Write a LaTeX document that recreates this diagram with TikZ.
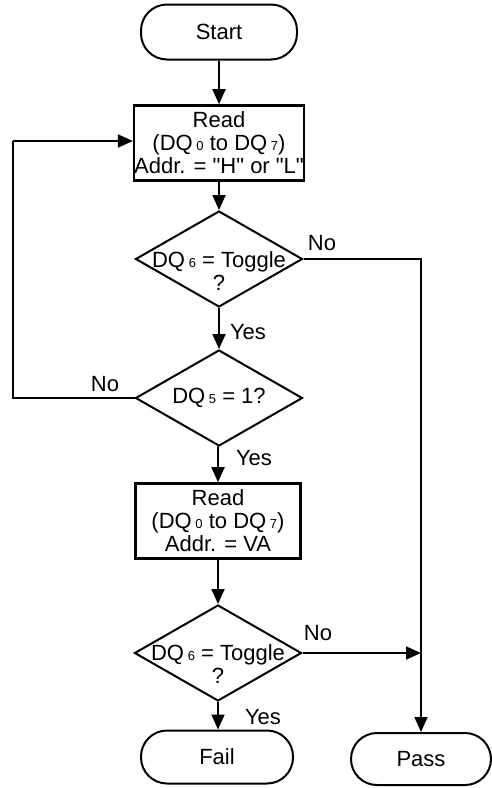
\documentclass[tikz,border=0pt]{standalone}
\usepackage{fontspec}
\setmainfont{Liberation Sans}
\usepackage{tikz}
\usetikzlibrary{shapes.geometric,arrows.meta,positioning,calc}
\newcommand{\dqsub}[1]{\,{\fontsize{13}{13}\selectfont #1}}

\begin{document}
\begin{tikzpicture}[x=1pt,y=-1pt,
        font=\fontsize{22}{23}\selectfont,
        term/.style={draw, line width=2pt, rounded corners=26pt,
                     minimum width=152pt, minimum height=53pt, inner sep=0pt},
        rd/.style={draw, line width=2.6pt, align=center, inner sep=0pt,
                   minimum width=166pt, minimum height=75pt},
        dec/.style={draw, diamond, line width=2pt, inner sep=0pt,
                    minimum width=167pt, minimum height=96pt},
        arr/.style={-{Triangle[length=15pt,width=13pt]}, line width=1.8pt},
        ln/.style={line width=2pt}
      ]
        \useasboundingbox (0,0) rectangle (492,788);
        % MAIN COLUMN
        \node[term, minimum width=156pt, minimum height=55pt] (start) at (219,32) {Start};
        \node[rd] (read1) at (219,143) {Read\\(DQ\dqsub{0} to DQ\dqsub{7})\\Addr. = \textquotedbl H\textquotedbl{} or \textquotedbl L\textquotedbl};
        \node[dec, label={[align=center, yshift=-12pt]center:{DQ\dqsub{6} = Toggle\\?}}] (dq6a) at (219,259) {};
        \node[dec, label={center:{DQ\dqsub{5} = 1?}}] (dq5) at (219,398) {};
        \node[rd, minimum width=165pt] (read2) at (218,521) {Read\\(DQ\dqsub{0} to DQ\dqsub{7})\\Addr. = VA};
        \node[dec, label={[align=center, yshift=-11pt]center:{DQ\dqsub{6} = Toggle\\?}}] (dq6b) at (218,653) {};
        \node[term] (fail) at (217,757) {Fail};
        \node[term, minimum width=140pt, minimum height=52pt] (pass) at (421,759) {Pass};
        % DOWNWARD ARROWS
        \draw[arr] (start)--(read1);
        \draw[arr] (read1)--(dq6a);
        \draw[arr] (dq6a)--(dq5);
        \draw[arr] (dq5)--(read2 |- dq5.south) -- (read2);
        \draw[arr] (read2)--(read2 |- dq6b.north);
        \draw[arr] (dq6b)--(dq6b |- fail.north);
        % LABELS
        \node (yes1) at (248,332) {Yes};
        \node (yes2) at (254,458) {Yes};
        \node (yes3) at (263,717) {Yes};
        \node (no1) at (322,243) {No};
        \node (no2) at (105,384) {No};
        \node (no3) at (318,633) {No};
        % LOOP BACK TO FIRST READ
        \coordinate (lb) at (13,398);
        \coordinate (lt) at (13,141);
        \draw[ln] (dq5.west)--(lb)--(lt);
        \draw[arr] (lt)--(lt -| read1.west);
        % RIGHT BRANCH TO PASS
        \coordinate (rt) at (pass.north |- dq6a.east);
        \coordinate (rj) at (pass.north |- dq6b.east);
        \draw[ln] (dq6a.east)--(rt)--(rj);
        \draw[arr] (rj)--(pass.north);
        \draw[arr] (dq6b.east)--(rj);
      \end{tikzpicture}
\end{document}
